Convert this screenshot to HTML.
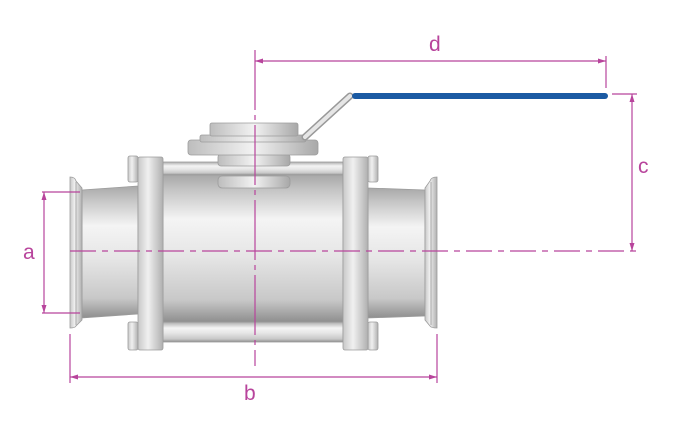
<!DOCTYPE html>
<html><head><meta charset="utf-8"><style>html,body{margin:0;padding:0;background:#fff}svg{display:block}</style></head>
<body>
<svg width="693" height="431" viewBox="0 0 693 431" xmlns="http://www.w3.org/2000/svg">
<defs>
<linearGradient id="v" x1="0" y1="0" x2="0" y2="1">
<stop offset="0" stop-color="#a8a8a8"/><stop offset="0.1" stop-color="#c4c4c4"/><stop offset="0.3" stop-color="#f4f4f4"/><stop offset="0.55" stop-color="#e6e6e6"/><stop offset="0.85" stop-color="#c8c8c8"/><stop offset="1" stop-color="#8e8e8e"/></linearGradient>
<linearGradient id="h" x1="0" y1="0" x2="1" y2="0">
<stop offset="0" stop-color="#c8c8c8"/><stop offset="0.4" stop-color="#f0f0f0"/><stop offset="1" stop-color="#b0b0b0"/></linearGradient>
<linearGradient id="d" x1="0" y1="0" x2="1" y2="0">
<stop offset="0" stop-color="#bdbdbd"/><stop offset="0.5" stop-color="#f2f2f2"/><stop offset="1" stop-color="#a8a8a8"/></linearGradient>
</defs>
<g stroke="#9c9c9c" stroke-width="0.8">
<rect x="163" y="162" width="180" height="13" fill="url(#v)"/>
<rect x="163" y="322" width="180" height="20" fill="url(#v)"/>
<rect x="163" y="175" width="180" height="147" fill="url(#v)"/>
<rect x="218" y="176" width="72" height="12" rx="4" fill="url(#d)"/>
<path d="M82 190 L138 186 L138 314 L82 318 Z" fill="url(#v)"/>
<path d="M368 188 L425 190 L425 316 L368 318 Z" fill="url(#v)"/>
<!-- clamps -->
<path d="M70 177 Q75 177 76 181 L82 188 L82 320 L76 326 Q75 328 70 328 Z" fill="url(#h)"/>
<line x1="76" y1="182" x2="76" y2="325"/>
<path d="M437 177 Q431 177 430 181 L425 188 L425 320 L430 326 Q431 328 437 328 Z" fill="url(#h)"/>
<line x1="431" y1="182" x2="431" y2="325"/>
<rect x="128" y="156" width="10" height="26" rx="2" fill="url(#h)"/>
<rect x="128" y="322" width="10" height="28" rx="2" fill="url(#h)"/>
<rect x="368" y="156" width="10" height="26" rx="2" fill="url(#h)"/>
<rect x="368" y="322" width="10" height="28" rx="2" fill="url(#h)"/>
<rect x="138" y="157" width="25" height="193" rx="2" fill="url(#h)"/>
<rect x="343" y="157" width="25" height="193" rx="2" fill="url(#h)"/>
<rect x="218" y="154" width="72" height="12" rx="3" fill="url(#d)"/>
<rect x="188" y="140" width="130" height="15" rx="3" fill="url(#d)"/>
<rect x="200" y="135" width="106" height="7" rx="2" fill="url(#d)"/>
<rect x="210" y="123" width="88" height="13" rx="2" fill="url(#d)"/>
</g>
<path d="M305 137 L350 96" stroke="#999" stroke-width="7" stroke-linecap="round"/>
<path d="M305 137 L350 96" stroke="#e6e6e6" stroke-width="4" stroke-linecap="round"/>
<line x1="355" y1="96" x2="605" y2="96" stroke="#1b5aa3" stroke-width="6" stroke-linecap="round"/>
<g stroke="#b8449c" stroke-width="1.2" fill="none">
<line x1="255" y1="50" x2="255" y2="366" stroke-dasharray="60 5 5 5"/>
<line x1="70" y1="251" x2="637" y2="251" stroke-dasharray="26 6 6 6"/>
<line x1="255" y1="61" x2="606" y2="61"/>
<line x1="606" y1="56" x2="606" y2="88"/>
<line x1="612" y1="94" x2="637" y2="94"/>
<line x1="632" y1="94" x2="632" y2="251"/>
<line x1="42" y1="192" x2="80" y2="192"/>
<line x1="42" y1="313" x2="80" y2="313"/>
<line x1="44" y1="192" x2="44" y2="313"/>
<line x1="70" y1="334" x2="70" y2="383"/>
<line x1="437" y1="334" x2="437" y2="383"/>
<line x1="70" y1="377" x2="437" y2="377"/>
</g>
<g fill="#b8449c">
<path d="M255 61 l8 -2.5 v5 z"/><path d="M606 61 l-8 -2.5 v5 z"/>
<path d="M632 94 l-2.5 8 h5 z"/><path d="M632 251 l-2.5 -8 h5 z"/>
<path d="M44 192 l-2.5 8 h5 z"/><path d="M44 313 l-2.5 -8 h5 z"/>
<path d="M70 377 l8 -2.5 v5 z"/><path d="M437 377 l-8 -2.5 v5 z"/>
</g>
<g fill="#b8449c" font-family="Liberation Sans, sans-serif" font-size="21">
<text x="429" y="51">d</text>
<text x="638" y="173">c</text>
<text x="23" y="259">a</text>
<text x="244" y="400">b</text>
</g>
</svg>
</body></html>
